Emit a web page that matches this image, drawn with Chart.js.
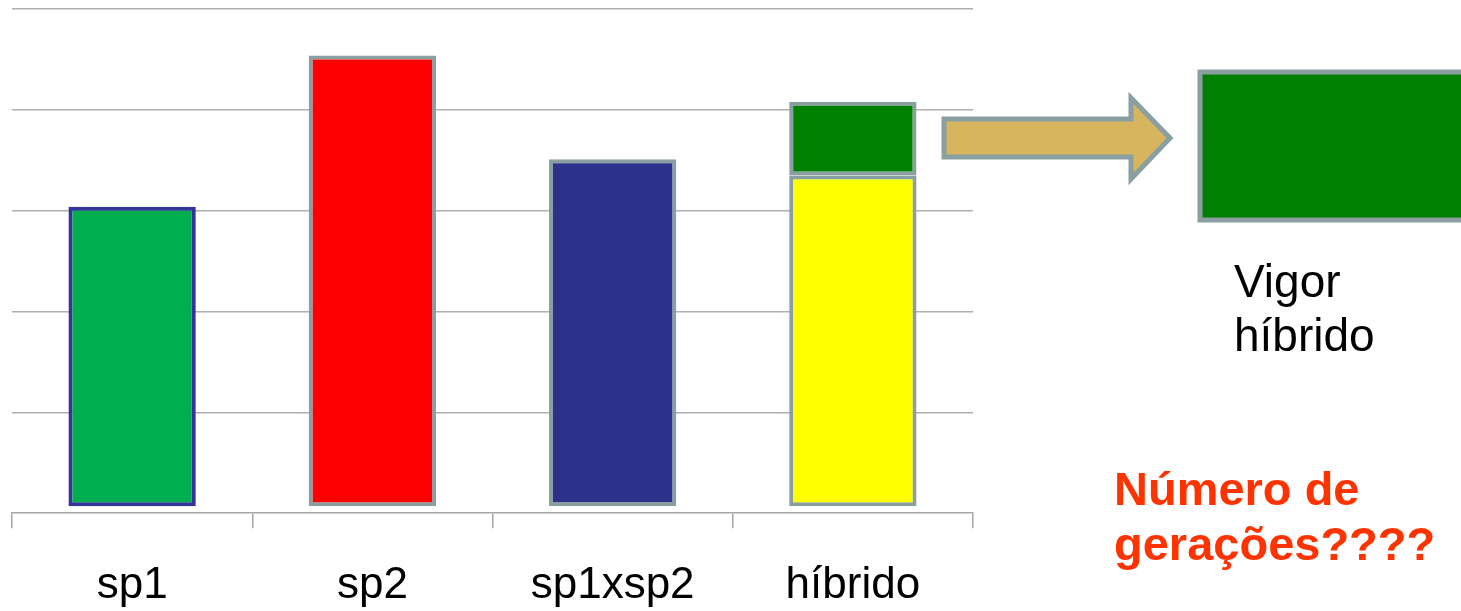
<!DOCTYPE html>
<html>
<head>
<meta charset="utf-8">
<script src="https://cdn.jsdelivr.net/npm/chart.js@4"></script>
<style>
  body { margin: 0; background: #fff; }
  #wrap { position: relative; width: 1461px; height: 611px; overflow: hidden; }
  #chart { position: absolute; left: 0; top: 0; }
  svg { position: absolute; left: 0; top: 0; }
  .note { position: absolute; font-family: "Liberation Sans", Arial, sans-serif; white-space: nowrap; }
  #vigor { left: 1234px; top: 254px; font-size: 46px; line-height: 54px; color: #000; }
  #geracoes { left: 1114px; top: 461px; font-size: 47px; line-height: 55px; font-weight: bold; color: #ff3300; }
</style>
</head>
<body>
<div id="wrap">
  <!-- canvas is taller than the view so the x labels sit low like the slide -->
  <canvas id="chart" width="1461" height="643"></canvas>
  <svg width="1461" height="611">
    <polygon points="944,119 1131,119 1131,98 1170,138 1131,179 1131,157 944,157"
             fill="#d6b55e" stroke="#8a9fa2" stroke-width="5" stroke-linejoin="miter"/>
    <rect x="1200" y="72" width="270" height="148" fill="#007f00" stroke="#8a9fa2" stroke-width="5"/>
  </svg>
  <div class="note" id="vigor">Vigor<br>híbrido</div>
  <div class="note" id="geracoes">Número de<br>gerações????</div>
</div>
<script>
const categories = ['sp1', 'sp2', 'sp1xsp2', 'híbrido'];
const baseValues = [3.04, 4.54, 3.51, 3.35];
const vigorValues = [null, null, null, 0.73];
const gridTicks = [1, 2, 3, 4, 5];

const baseColors = ['#00ad4f', '#ff0000', '#2e3189', '#ffff00'];
const baseBorders = ['#333399', '#8a9fa2', '#8a9fa2', '#8a9fa2'];

const ctx = document.getElementById('chart').getContext('2d');

new Chart(ctx, {
    type: 'bar',
    data: {
        labels: categories,
        datasets: [{
            label: 'base',
            data: baseValues,
            base: 0.07,
            backgroundColor: baseColors,
            borderColor: baseBorders,
            borderWidth: 4,
            borderSkipped: false
        }, {
            label: 'vigor',
            data: vigorValues,
            backgroundColor: '#007f00',
            borderColor: '#8a9fa2',
            borderWidth: 4,
            borderSkipped: false
        }]
    },
    options: {
        responsive: false,
        animation: false,
        barPercentage: 0.53,
        categoryPercentage: 1,
        layout: {
            padding: { left: 12, top: 9, right: 488, bottom: 0 }
        },
        plugins: {
            legend: { display: false },
            tooltip: { enabled: false }
        },
        scales: {
            x: {
                stacked: true,
                grid: {
                    drawOnChartArea: false,
                    drawTicks: true,
                    tickLength: 15,
                    color: '#a6a6a6',
                    lineWidth: 1.5
                },
                border: { color: '#a6a6a6', width: 1.5 },
                ticks: {
                    color: '#000',
                    padding: 31,
                    font: { family: '"Liberation Sans", Arial, sans-serif', size: 44 }
                }
            },
            y: {
                stacked: true,
                min: 0,
                max: 5,
                afterBuildTicks: axis => {
                    axis.ticks = gridTicks.map(v => ({ value: v }));
                },
                grid: {
                    drawTicks: false,
                    color: '#afafaf',
                    lineWidth: 1.5
                },
                border: { display: false },
                ticks: { display: false }
            }
        }
    }
});
</script>
</body>
</html>
